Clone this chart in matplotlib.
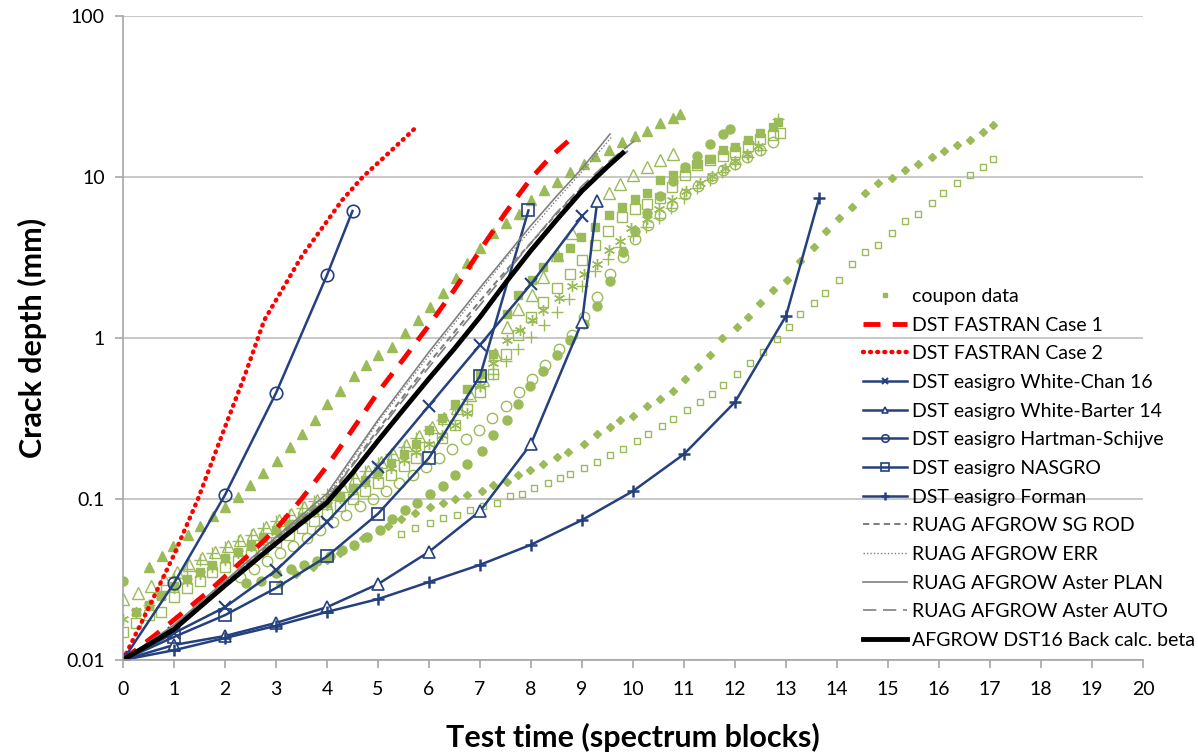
import numpy as np
import matplotlib.pyplot as plt
from matplotlib.lines import Line2D

plt.rcParams['font.family'] = ['Lato', 'DejaVu Sans']

# ---------------- data ----------------
# coupon data, filled triangles
cp_tri_x = [0.5, 0.76, 0.99, 1.28, 1.51, 1.77, 2.0, 2.26, 2.49, 2.75, 3.01, 3.27, 3.5, 3.76, 4.0, 4.25, 4.52,
            4.76, 5.0, 5.27, 5.53, 5.78, 6.02, 6.28, 6.52, 6.75, 7.0, 7.25, 7.5, 7.76, 8.0, 8.25, 8.5, 8.76,
            9.03, 9.25, 9.52, 9.78, 10.04, 10.27, 10.53, 10.79, 10.92]
cp_tri_y = [0.038, 0.044, 0.051, 0.060, 0.068, 0.078, 0.089, 0.103, 0.122, 0.145, 0.173, 0.211, 0.254, 0.31,
            0.39, 0.47, 0.58, 0.68, 0.78, 0.88, 1.07, 1.3, 1.56, 1.9, 2.35, 2.93, 3.6, 4.49, 5.2, 5.9, 7.2,
            8.3, 9.3, 10.7, 12.1, 13.6, 14.8, 16.6, 17.9, 19.4, 21.5, 23.1, 24.5]
# coupon data, open triangles
cp_otri_x = [0, 0.3, 0.55, 0.8, 1.05, 1.3, 1.55, 1.8, 2.05, 2.3, 2.55, 2.8, 3.05, 3.3, 3.55, 3.8, 4.05, 4.3,
             4.55, 4.8, 5.05, 5.3, 5.55, 5.8, 6.05, 6.3, 6.55, 6.8, 7.05, 7.3, 7.52, 7.75, 8.01, 8.24, 8.5,
             8.8, 9.52, 9.75, 10.0, 10.27, 10.53, 10.79]
cp_otri_y = [0.024, 0.026, 0.029, 0.032, 0.035, 0.039, 0.043, 0.047, 0.051, 0.056, 0.061, 0.067, 0.074, 0.081,
             0.089, 0.098, 0.108, 0.12, 0.135, 0.15, 0.17, 0.19, 0.215, 0.245, 0.28, 0.32, 0.37, 0.44, 0.55,
             0.8, 1.17, 1.52, 1.85, 2.4, 3.3, 4.5, 7.9, 9.1, 10.3, 11.6, 12.7, 13.9]
# coupon data, open squares
cp_osq_x = [0, 0.25, 0.5, 0.75, 1.0, 1.25, 1.5, 1.75, 2.0, 2.25, 2.5, 2.75, 3.0, 3.25, 3.5, 3.75, 4.0, 4.25,
            4.5, 4.75, 5.0, 5.25, 5.5, 5.75, 6.0, 6.25, 6.5, 6.75, 7.0, 7.25, 7.5, 7.75, 8.0, 8.24, 8.5, 8.76,
            9.0, 9.25, 9.5, 9.78, 10.04, 10.27, 10.53, 10.76, 11.02, 11.25, 11.5, 11.77, 12.0, 12.25, 12.49,
            12.75, 12.88]
cp_osq_y = [0.015, 0.017, 0.019, 0.020, 0.0245, 0.028, 0.031, 0.035, 0.038, 0.041, 0.045, 0.049, 0.054, 0.06,
            0.066, 0.073, 0.081, 0.09, 0.1, 0.112, 0.125, 0.14, 0.16, 0.18, 0.21, 0.24, 0.29, 0.36, 0.46, 0.6,
            0.8, 1.05, 1.35, 1.67, 2.04, 2.5, 3.05, 3.8, 4.6, 5.65, 6.3, 6.8, 7.4, 8.7, 10.3, 11.9, 12.7,
            13.6, 14.4, 15.5, 17.2, 18.2, 18.7]
# coupon data, filled squares
cp_fsq_x = [0.25, 0.5, 0.75, 1.0, 1.25, 1.5, 1.75, 2.0, 2.25, 2.5, 2.75, 3.0, 3.25, 3.5, 3.75, 4.0, 4.25, 4.5,
            4.75, 5.0, 5.25, 5.5, 5.75, 6.0, 6.25, 6.5, 6.75, 7.0, 7.26, 7.52, 7.75, 8.01, 8.24, 8.53, 8.76,
            8.99, 9.25, 9.52, 9.78, 10.04, 10.27, 10.53, 10.79, 11.02, 11.25, 11.51, 11.77, 12.0, 12.26,
            12.49, 12.75, 12.85]
cp_fsq_y = [0.02, 0.022, 0.025, 0.029, 0.032, 0.035, 0.039, 0.043, 0.047, 0.052, 0.058, 0.064, 0.07, 0.077,
            0.085, 0.095, 0.105, 0.117, 0.132, 0.15, 0.168, 0.19, 0.22, 0.27, 0.32, 0.39, 0.48, 0.6, 0.8, 1.4,
            1.85, 2.3, 2.76, 3.17, 3.6, 4.25, 4.9, 5.8, 6.5, 7.3, 7.9, 9.6, 10.3, 11.3, 12.1, 13.0, 14.7, 15.4,
            16.9, 18.7, 20.4, 21.9]
# coupon data, asterisks
cp_ast_x = [0, 0.25, 0.5, 0.75, 1.0, 1.25, 1.5, 1.75, 2.0, 2.25, 2.5, 2.75, 3.0, 3.25, 3.5, 3.75, 4.0, 4.25,
            4.5, 4.75, 5.0, 5.25, 5.5, 5.75, 6.0, 6.25, 6.5, 6.75, 7.0, 7.26, 7.52, 7.78, 8.01, 8.24, 8.54,
            8.8, 9.03, 9.29, 9.52, 9.75, 9.97, 10.27, 10.5, 10.76, 11.03, 11.31, 11.55, 11.8, 12.0, 12.23,
            12.45]
cp_ast_y = [0.018, 0.02, 0.022, 0.025, 0.028, 0.031, 0.034, 0.038, 0.042, 0.046, 0.051, 0.056, 0.062, 0.068,
            0.075, 0.083, 0.092, 0.102, 0.113, 0.126, 0.14, 0.156, 0.175, 0.197, 0.22, 0.25, 0.29, 0.34, 0.5,
            0.7, 0.97, 1.12, 1.29, 1.49, 1.76, 2.1, 2.5, 2.9, 3.5, 4.0, 4.8, 5.5, 6.3, 7.2, 8.2, 9.2, 10.2,
            11.3, 12.5, 13.9, 15.5]
# coupon data, plus markers
cp_plus_x = [0.5, 0.75, 1.0, 1.25, 1.5, 1.75, 2.0, 2.25, 2.5, 2.75, 3.0, 3.25, 3.5, 3.75, 4.0, 4.25, 4.5, 4.75,
             5.0, 5.25, 5.5, 5.75, 6.0, 6.25, 6.5, 6.75, 7.0, 7.25, 7.5, 7.75, 8.0, 8.25, 8.5, 8.75, 9.0, 9.25,
             9.5, 9.75, 10.0, 10.25, 10.5, 10.75, 11.0, 11.25, 11.5, 11.75, 12.0, 12.25, 12.5, 12.85]
cp_plus_y = [0.022, 0.027, 0.033, 0.037, 0.042, 0.046, 0.05, 0.055, 0.06, 0.066, 0.073, 0.08, 0.088, 0.097,
             0.107, 0.12, 0.135, 0.15, 0.168, 0.19, 0.21, 0.24, 0.27, 0.31, 0.36, 0.42, 0.5, 0.6, 0.72, 0.86,
             1.02, 1.2, 1.45, 1.75, 2.1, 2.6, 3.1, 3.7, 4.3, 4.9, 5.6, 6.4, 7.4, 8.5, 9.6, 10.8, 12.0, 13.3,
             14.7, 23.0]
# coupon data, open circles
cp_oc_x = [2.3, 2.56, 2.82, 3.08, 3.34, 3.6, 3.86, 4.12, 4.38, 4.65, 4.9, 5.16, 5.42, 5.68, 5.94, 6.2, 6.46,
           6.72, 6.98, 7.24, 7.5, 7.76, 8.02, 8.28, 8.54, 8.8, 9.03, 9.29, 9.55, 9.81, 10.04, 10.3, 10.53,
           10.76, 11.02, 11.28, 11.54, 11.77, 12.0, 12.23, 12.49, 12.75]
cp_oc_y = [0.033, 0.037, 0.041, 0.046, 0.051, 0.057, 0.064, 0.072, 0.08, 0.09, 0.1, 0.112, 0.125, 0.14, 0.158,
           0.18, 0.205, 0.235, 0.27, 0.32, 0.38, 0.46, 0.56, 0.68, 0.85, 1.05, 1.35, 1.8, 2.5, 3.2, 4.1, 5.0,
           5.8, 6.6, 7.8, 8.8, 9.8, 11.0, 12.0, 13.3, 14.7, 16.5]
# coupon data, filled circles
cp_fc_x = [0, 2.42, 2.7, 3.0, 3.3, 3.55, 3.8, 4.06, 4.3, 4.52, 4.78, 5.04, 5.27, 5.53, 5.76, 6.02, 6.28, 6.51,
           6.74, 7.03, 7.26, 7.52, 7.75, 7.98, 8.24, 8.5, 8.76, 9.03, 9.29, 9.55, 9.81, 10.04, 10.27, 10.53,
           10.79, 11.02, 11.25, 11.5, 11.77, 11.9]
cp_fc_y = [0.031, 0.03, 0.031, 0.0345, 0.037, 0.039, 0.041, 0.044, 0.048, 0.052, 0.058, 0.064, 0.075, 0.085,
           0.095, 0.107, 0.12, 0.14, 0.165, 0.2, 0.25, 0.31, 0.39, 0.5, 0.62, 0.78, 0.97, 1.23, 1.57, 2.25,
           3.4, 4.6, 6.0, 7.6, 9.5, 11.5, 13.5, 16.0, 18.5, 20.0]
# coupon data, small filled diamonds
cp_dia_x = [3.08, 3.4, 3.73, 4.0, 4.25, 4.52, 4.71, 5.04, 5.2, 5.46, 5.73, 6.02, 6.28, 6.51, 6.74, 7.03, 7.26,
            7.52, 7.75, 7.98, 8.24, 8.5, 8.73, 9.03, 9.29, 9.55, 9.75, 10.0, 10.27, 10.53, 10.79, 11.02, 11.28,
            11.51, 11.74, 12.03, 12.26, 12.49, 12.75, 13.01, 13.27, 13.54, 13.78, 14.03, 14.29, 14.55, 14.81,
            15.07, 15.33, 15.59, 15.86, 16.1, 16.35, 16.6, 16.87, 17.06]
cp_dia_y = [0.0296, 0.034, 0.038, 0.042, 0.046, 0.051, 0.057, 0.064, 0.068, 0.075, 0.082, 0.089, 0.094, 0.1,
            0.106, 0.112, 0.122, 0.128, 0.14, 0.152, 0.166, 0.183, 0.197, 0.22, 0.255, 0.28, 0.31, 0.33, 0.38,
            0.42, 0.47, 0.56, 0.66, 0.78, 1.0, 1.17, 1.35, 1.64, 2.0, 2.3, 3.0, 3.7, 4.6, 5.6, 6.5, 7.9, 9.2,
            9.9, 11.0, 12.1, 13.3, 14.5, 15.7, 17.0, 19.0, 21.0]
# coupon data, small open squares
cp_sq_x = [5.46, 5.73, 6.02, 6.28, 6.54, 6.8, 7.06, 7.33, 7.59, 7.82, 8.05, 8.34, 8.57, 8.76, 9.03, 9.29, 9.55,
           9.81, 10.07, 10.3, 10.56, 10.79, 11.05, 11.31, 11.54, 11.77, 12.03, 12.29, 12.55, 12.82, 13.05,
           13.27, 13.54, 13.76, 14.03, 14.29, 14.55, 14.81, 15.07, 15.33, 15.59, 15.86, 16.08, 16.35, 16.6,
           16.87, 17.06]
cp_sq_y = [0.061, 0.066, 0.071, 0.076, 0.079, 0.085, 0.09, 0.094, 0.104, 0.108, 0.117, 0.125, 0.136, 0.142,
           0.155, 0.17, 0.188, 0.205, 0.23, 0.255, 0.286, 0.316, 0.357, 0.40, 0.45, 0.51, 0.60, 0.70, 0.82,
           0.98, 1.17, 1.4, 1.65, 1.9, 2.3, 2.9, 3.4, 3.8, 4.5, 5.3, 5.9, 6.9, 7.9, 9.2, 10.3, 11.6, 13.0]

# models
fas1_x = [0, 0.75, 1.7, 2.5, 3.0, 3.5, 4.0, 4.5, 5.0, 5.5, 6.0, 6.5, 7.0, 7.5, 8.0, 8.4, 8.8]
fas1_y = [0.01, 0.0153, 0.027, 0.046, 0.065, 0.1, 0.16, 0.27, 0.46, 0.74, 1.2, 2.0, 3.5, 6.0, 9.8, 13.5, 17.5]
fas2_x = [0, 0.5, 1, 1.47, 2, 2.4, 2.77, 3.5, 4.3, 4.7, 5.2, 5.75]
fas2_y = [0.01, 0.021, 0.045, 0.1, 0.28, 0.6, 1.29, 3.2, 7.2, 10.0, 14.0, 20.4]
wc16_x = [0, 1, 2, 3, 4, 5, 6, 7, 8, 9]
wc16_y = [0.01, 0.0147, 0.0213, 0.036, 0.072, 0.158, 0.38, 0.905, 2.16, 5.7]
wb14_x = [0, 1, 2, 3, 4, 5, 6, 7, 8, 9, 9.3]
wb14_y = [0.01, 0.0124, 0.0141, 0.017, 0.0213, 0.0296, 0.047, 0.084, 0.22, 1.26, 7.1]
hs_x = [0, 1, 2, 3, 4, 4.5]
hs_y = [0.01, 0.030, 0.106, 0.455, 2.46, 6.15]
nas_x = [0, 1, 2, 3, 4, 5, 6, 7, 7.95]
nas_y = [0.01, 0.0139, 0.019, 0.028, 0.044, 0.081, 0.18, 0.58, 6.2]
form_x = [0, 1, 2, 3, 4, 5, 6, 7, 8, 9, 10, 11, 12, 13, 13.65]
form_y = [0.01, 0.0115, 0.0137, 0.0163, 0.0199, 0.0239, 0.0305, 0.039, 0.052, 0.074, 0.112, 0.19, 0.40, 1.37,
          7.4]
sgrod_x = [0, 1, 2, 3, 4, 5, 6, 7, 7.5, 8, 8.5, 9, 9.5, 9.9]
sgrod_y = [0.01, 0.0162, 0.0305, 0.057, 0.1, 0.27, 0.7, 1.7, 2.6, 3.9, 5.9, 8.6, 11.8, 14.5]
err_x = [0, 1, 2, 3, 4, 5, 6, 7, 7.5, 8, 8.5, 9, 9.6]
err_y = [0.01, 0.016, 0.03, 0.056, 0.104, 0.3, 0.78, 1.95, 3.1, 4.7, 7.2, 10.8, 18.0]
plan_x = [0, 1, 2, 3, 4, 5, 6, 7, 7.5, 8, 8.5, 9, 9.55]
plan_y = [0.01, 0.0165, 0.031, 0.058, 0.108, 0.31, 0.82, 2.05, 3.2, 5.0, 7.6, 11.3, 18.5]
auto_x = [0, 1, 2, 3, 4, 5, 6, 7, 7.5, 8, 8.5, 9, 9.5, 10.1]
auto_y = [0.01, 0.016, 0.03, 0.055, 0.1, 0.26, 0.66, 1.6, 2.5, 3.9, 6.0, 8.8, 12.3, 17.5]
dst16_x = [0, 1, 2, 3, 4, 4.5, 5, 5.5, 6, 6.5, 7, 7.5, 8, 8.5, 9, 9.5, 9.8]
dst16_y = [0.01, 0.0155, 0.029, 0.053, 0.095, 0.145, 0.23, 0.36, 0.56, 0.86, 1.35, 2.2, 3.5, 5.4, 8.2, 11.6,
           14.1]

xticks = list(range(0, 21))
yticks = [0.01, 0.1, 1, 10, 100]
ytick_labels = ['0.01', '0.1', '1', '10', '100']

# ---------------- plot ----------------
green = '#9BBB59'
blue = '#24407F'
gray = '#808080'

fig = plt.figure(figsize=(11.98, 7.54), dpi=100)
ax = fig.add_axes([123 / 1198, 1 - 660 / 754, (1143 - 123) / 1198, (660 - 16) / 754])

ax.plot(cp_tri_x, cp_tri_y, ls='none', marker='^', ms=6.5, color=green, mec=green)
ax.plot(cp_otri_x, cp_otri_y, ls='none', marker='^', ms=8, mfc='none', mec=green, mew=1)
ax.plot(cp_osq_x, cp_osq_y, ls='none', marker='s', ms=7, mfc='none', mec=green, mew=1)
ax.plot(cp_fsq_x, cp_fsq_y, ls='none', marker='s', ms=5.5, color=green)
ax.plot(cp_ast_x, cp_ast_y, ls='none', marker=(6, 2, 0), ms=8, color=green, mew=1)
ax.plot(cp_plus_x, cp_plus_y, ls='none', marker='+', ms=8, color=green, mew=1)
ax.plot(cp_oc_x, cp_oc_y, ls='none', marker='o', ms=7.5, mfc='none', mec=green, mew=1)
ax.plot(cp_fc_x, cp_fc_y, ls='none', marker='o', ms=6.5, color=green)
ax.plot(cp_dia_x, cp_dia_y, ls='none', marker='D', ms=4, color=green)
ax.plot(cp_sq_x, cp_sq_y, ls='none', marker='s', ms=4.5, mfc='none', mec=green, mew=1)

h_fas1, = ax.plot(fas1_x, fas1_y, color='red', lw=3.5, dashes=(3.5, 2.5))
h_fas2, = ax.plot(fas2_x, fas2_y, color='red', lw=3.2, ls=(0, (0.2, 1.4)), dash_capstyle='round')
h_wc, = ax.plot(wc16_x, wc16_y, color=blue, lw=1.8, marker='x', ms=8, mew=1.5)
h_wb, = ax.plot(wb14_x, wb14_y, color=blue, lw=1.8, marker='^', ms=8, mfc='white', mew=1.2)
h_hs, = ax.plot(hs_x, hs_y, color=blue, lw=1.8, marker='o', ms=9, mfc='none', mew=1.2)
h_nas, = ax.plot(nas_x, nas_y, color=blue, lw=1.8, marker='s', ms=8.5, mfc='none', mew=1.2)
h_for, = ax.plot(form_x, form_y, color=blue, lw=1.8, marker='+', ms=9, mew=1.8)
h_sg, = ax.plot(sgrod_x, sgrod_y, color=gray, lw=1.5, dashes=(3, 2))
h_err, = ax.plot(err_x, err_y, color=gray, lw=1, ls=(0, (1, 1.5)))
h_plan, = ax.plot(plan_x, plan_y, color=gray, lw=1.2)
h_auto, = ax.plot(auto_x, auto_y, color=gray, lw=1.2, dashes=(8, 4))
h_dst, = ax.plot(dst16_x, dst16_y, color='black', lw=3.5)

ax.set_yscale('log')
ax.set_xlim(0, 20)
ax.set_ylim(0.01, 100)
ax.set_xticks(xticks)
ax.set_yticks(yticks)
ax.set_yticklabels(ytick_labels)
ax.minorticks_off()
ax.yaxis.grid(True, color='#BFBFBF', lw=1.2)
ax.set_axisbelow(True)
for s in ['top', 'right']:
    ax.spines[s].set_visible(False)
for s in ['left', 'bottom']:
    ax.spines[s].set_color('#A6A6A6')
    ax.spines[s].set_linewidth(1.2)
ax.tick_params(axis='both', colors='#A6A6A6', labelcolor='black', labelsize=14, length=6, width=1.2)
ax.tick_params(axis='x', pad=9)
ax.tick_params(axis='y', pad=7)

ax.set_xlabel('Test time (spectrum blocks)', fontsize=22, fontweight='bold', labelpad=18)
ax.set_ylabel('Crack depth (mm)', fontsize=22, fontweight='bold', labelpad=14)

coupon_h = Line2D([], [], ls='none', marker='s', ms=4, color=green)
handles = [coupon_h, h_fas1, h_fas2, h_wc, h_wb, h_hs, h_nas, h_for, h_sg, h_err, h_plan, h_auto, h_dst]
labels = ['coupon data', 'DST FASTRAN Case 1', 'DST FASTRAN Case 2', 'DST easigro White-Chan 16',
          'DST easigro White-Barter 14', 'DST easigro Hartman-Schijve', 'DST easigro NASGRO',
          'DST easigro Forman', 'RUAG AFGROW SG ROD', 'RUAG AFGROW ERR', 'RUAG AFGROW Aster PLAN',
          'RUAG AFGROW Aster AUTO', 'AFGROW DST16 Back calc. beta']
leg = fig.legend(handles, labels, loc='upper left', bbox_to_anchor=(0.712, 0.631), frameon=False,
                 fontsize=14, handlelength=2.3, handletextpad=0.25, labelspacing=0.6, borderpad=0,
                 markerscale=0.6)

fig.savefig('out.png', dpi=100)
